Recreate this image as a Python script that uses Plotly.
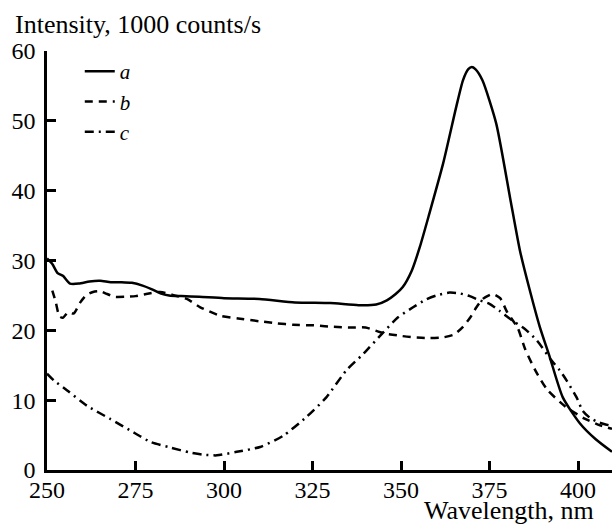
import plotly.graph_objects as go

# ---- data ----
wl_a = [250, 251.5, 253, 254.5, 256.5, 259, 262, 265, 268, 271, 274, 277, 279.5, 282,
        284.5, 288, 293, 300, 310, 320, 330, 338, 343, 346, 348.5, 350.5, 353, 355.3,
        358, 361.9, 365.6, 367.5, 369, 370, 371, 373, 376.9, 380.8, 383.6, 386.4,
        389.2, 392, 395.7, 400.5, 405, 409.6]
int_a = [30.3, 29.5, 28.2, 27.8, 26.7, 26.7, 27.0, 27.1, 26.9, 26.9, 26.8, 26.4, 25.9, 25.3,
         25.0, 24.9, 24.8, 24.6, 24.5, 24.0, 23.9, 23.6, 23.7, 24.3, 25.2, 26.2, 28.5, 31.9,
         36.7, 43.9, 52.0, 55.8, 57.4, 57.7, 57.4, 55.8, 49.6, 39.0, 31.4, 25.7,
         20.5, 16.2, 10.4, 6.7, 4.4, 2.6]

wl_b = [251.5, 252.5, 253.5, 254.5, 256, 257.5, 259.4, 261, 263, 265, 267, 269, 272, 275,
        278, 282, 286, 289.5, 293.3, 298.9, 304, 310, 315, 319.5, 326, 331, 336, 340, 345,
        350, 353.5, 358, 362, 365, 367.5, 369.5, 371.3, 373.1, 375.9, 378, 380, 383,
        385, 387.9, 391.3, 396.4, 401.7, 406.2, 409.6]
int_b = [25.7, 24.0, 22.0, 21.8, 22.6, 22.4, 24.0, 25.0, 25.5, 25.6, 25.2, 24.8, 24.8, 24.9,
         25.2, 25.5, 25.0, 24.5, 23.3, 22.1, 21.7, 21.3, 21.0, 20.8, 20.7, 20.5, 20.4, 20.4, 19.6,
         19.2, 19.0, 18.9, 19.0, 19.4, 20.5, 21.8, 23.3, 24.5, 25.2, 24.6, 22.6, 20.3,
         17.4, 14.3, 11.5, 9.1, 7.4, 6.4, 5.9]

wl_c = [250, 252, 255.7, 261.3, 267.9, 274.4, 279.3, 285, 290.4, 294, 298, 303.6, 310.2,
        316.7, 323.3, 328.9, 334.6, 339.3, 345, 349, 353.4, 357, 360, 363.7, 366.5, 369.4,
        372.2, 375, 377.8, 381.5, 385, 388.3, 392.5, 394.8, 396.8, 399.6, 401.3, 403.3,
        406, 409.6]
int_c = [13.8, 12.8, 11.4, 9.2, 7.3, 5.4, 4.0, 3.2, 2.5, 2.2, 2.1, 2.6, 3.3,
         4.9, 7.6, 10.4, 14.3, 16.6, 19.7, 21.8, 23.3, 24.4, 25.0, 25.4, 25.3, 24.9,
         24.3, 23.8, 22.8, 21.4, 20.2, 18.6, 15.7, 14.3, 12.8, 10.4, 8.5, 7.5,
         6.8, 6.3]

x_ticks = [250, 275, 300, 325, 350, 375, 400]
y_ticks = [0, 10, 20, 30, 40, 50, 60]
series_names = ["<i>a</i>", "<i>b</i>", "<i>c</i>"]

FONT = "Liberation Serif"

fig = go.Figure()
fig.add_trace(go.Scatter(x=wl_a, y=int_a, mode="lines", name=series_names[0],
                         line=dict(color="black", width=2.5, shape="spline", smoothing=0.6)))
fig.add_trace(go.Scatter(x=wl_b, y=int_b, mode="lines", name=series_names[1],
                         line=dict(color="black", width=2.5, dash="8px,6px",
                                   shape="spline", smoothing=0.6)))
fig.add_trace(go.Scatter(x=wl_c, y=int_c, mode="lines", name=series_names[2],
                         line=dict(color="black", width=2.5, dash="9px,5px,2px,5px",
                                   shape="spline", smoothing=0.6)))

fig.update_layout(
    width=612, height=525,
    margin=dict(l=47, r=0, t=51, b=55, pad=0),
    paper_bgcolor="white", plot_bgcolor="white",
    font=dict(family=FONT, size=24, color="black"),
    showlegend=True,
    legend=dict(x=0.058, y=1.0, xanchor="left", yanchor="top",
                bgcolor="rgba(0,0,0,0)", borderwidth=0,
                font=dict(family=FONT, size=21, color="black"),
                tracegroupgap=0, itemwidth=30),
    xaxis=dict(range=[250, 409.6], tickvals=x_ticks, ticktext=[str(v) for v in x_ticks],
               showgrid=False, zeroline=False, showline=True, linecolor="black",
               linewidth=2.5, ticks="inside", ticklen=9, tickwidth=2.5, tickcolor="black",
               tickfont=dict(family=FONT, size=24, color="black"), ticklabelstandoff=-4),
    yaxis=dict(range=[0, 60], tickvals=y_ticks, ticktext=[str(v) for v in y_ticks],
               showgrid=False, zeroline=False, showline=True, linecolor="black",
               linewidth=2.5, ticks="inside", ticklen=9, tickwidth=2.5, tickcolor="black",
               tickfont=dict(family=FONT, size=24, color="black"), ticklabelstandoff=4),
    annotations=[
        dict(text="Intensity, 1000 counts/s", xref="paper", yref="paper",
             x=-0.061, y=1.064, xanchor="left", yanchor="middle", showarrow=False,
             font=dict(family=FONT, size=26, color="black")),
        dict(text="Wavelength, nm", xref="paper", yref="paper",
             x=0.972, y=-0.096, xanchor="right", yanchor="middle", showarrow=False,
             font=dict(family=FONT, size=26, color="black")),
    ],
)

fig.write_html("out.html", config={"displayModeBar": False},
               post_script="document.body.style.margin='0';document.body.style.padding='0';")
